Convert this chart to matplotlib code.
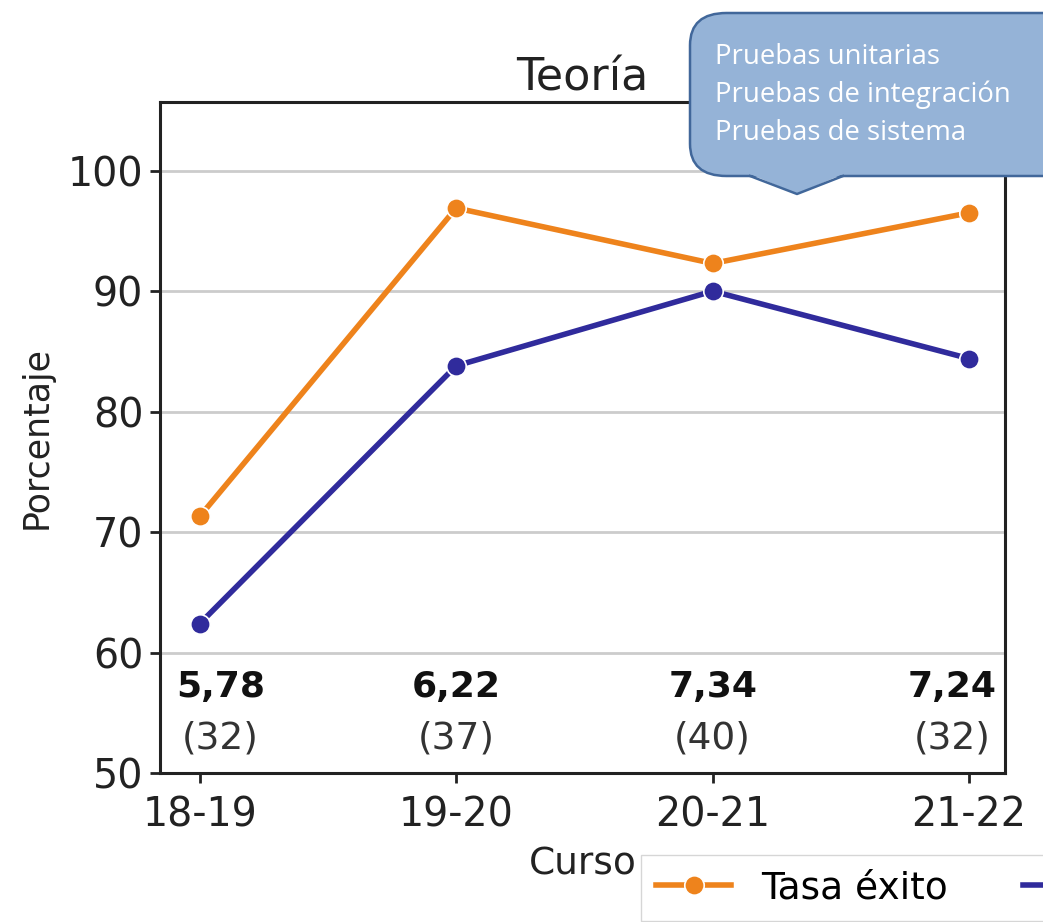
import matplotlib
matplotlib.use('Agg')
import matplotlib.pyplot as plt
from matplotlib.patches import FancyBboxPatch, Polygon
from matplotlib.lines import Line2D

##########DATA##########
cursos = ['18-19', '19-20', '20-21', '21-22']
tasa_exito = [71.3, 96.9, 92.3, 96.5]
tasa_rendimiento = [62.4, 83.8, 90.0, 84.4]
notas = ['5,78', '6,22', '7,34', '7,24']
alumnos = ['(32)', '(37)', '(40)', '(32)']
bocadillo = ['Pruebas unitarias', 'Pruebas de integración', 'Pruebas de sistema']

NARANJA = '#ee831c'
AZUL = '#302b9c'
# desplazamiento de las notas para que no se salgan del eje
DESPL = [0.08, 0, 0, -0.065]

##########FIGURE##########
W, H = 1043, 922
fig = plt.figure(figsize=(W / 100, H / 100), dpi=100)
ax = fig.add_axes([160 / W, 1 - 773 / H, 845 / W, 671 / H])

x = range(len(cursos))
ax.plot(x, tasa_exito, color=NARANJA, lw=4, marker='o', ms=14,
        mec='white', mew=1.2, label='Tasa éxito', zorder=3)
ax.plot(x, tasa_rendimiento, color=AZUL, lw=4, marker='o', ms=14,
        mec='white', mew=1.2, label='Tasa rendimiento', zorder=3)

for i in x:
    ax.text(i + DESPL[i], 57.1, notas[i], ha='center', va='center',
            fontsize=26, fontweight='bold', color='#111111')
    ax.text(i + DESPL[i], 52.9, alumnos[i], ha='center', va='center',
            fontsize=27, color='#333333')

ax.set_xlim(-0.155, 3.14)
ax.set_ylim(50, 105.7)
ax.set_xticks(list(x))
ax.set_xticklabels(cursos)
ax.set_yticks([50, 60, 70, 80, 90, 100])
ax.tick_params(labelsize=28.5, length=7, width=2, colors='#222222', pad=5)
ax.tick_params(axis='x', pad=9)
ax.yaxis.grid(True, color='#cccccc', lw=2)
ax.set_axisbelow(True)
for s in ax.spines.values():
    s.set_linewidth(2.2)
    s.set_color('#222222')

ax.set_title('Teoría', fontsize=32, color='#222222', pad=8.5)
ax.set_ylabel('Porcentaje', fontsize=25, color='#222222', labelpad=10)
ax.set_xlabel('Curso', fontsize=27, color='#222222', labelpad=8)

ax.legend(ncol=2, loc='upper left', bbox_to_anchor=(641 / W, 1 - 855 / H),
          bbox_transform=fig.transFigure, borderaxespad=0, fontsize=27,
          frameon=True, edgecolor='#cccccc', fancybox=False, columnspacing=2)

##########CALLOUT##########
def fx(px):
    return px / W

def fy(py):
    return 1 - py / H

caja = FancyBboxPatch((fx(690), fy(176)), fx(420), 163 / H,
                      boxstyle='round,pad=0,rounding_size=0.035',
                      transform=fig.transFigure, facecolor='#95b3d7',
                      edgecolor='#41679a', lw=1.8, zorder=10)
fig.add_artist(caja)
punta = [(fx(750), fy(174)), (fx(797), fy(194)), (fx(843), fy(174))]
fig.add_artist(Polygon(punta, closed=True, transform=fig.transFigure,
                       facecolor='#95b3d7', edgecolor='none', zorder=11))
fig.add_artist(Line2D([fx(750), fx(797), fx(843)], [fy(176), fy(194), fy(176)],
                      transform=fig.transFigure, color='#41679a', lw=1.8,
                      zorder=12))
for k, linea in enumerate(bocadillo):
    fig.text(fx(715), fy(57 + 38 * k), linea, fontsize=19.8, color='white',
             family=['Open Sans', 'DejaVu Sans'], va='center', ha='left',
             zorder=13)

fig.savefig('out.png', dpi=100)
